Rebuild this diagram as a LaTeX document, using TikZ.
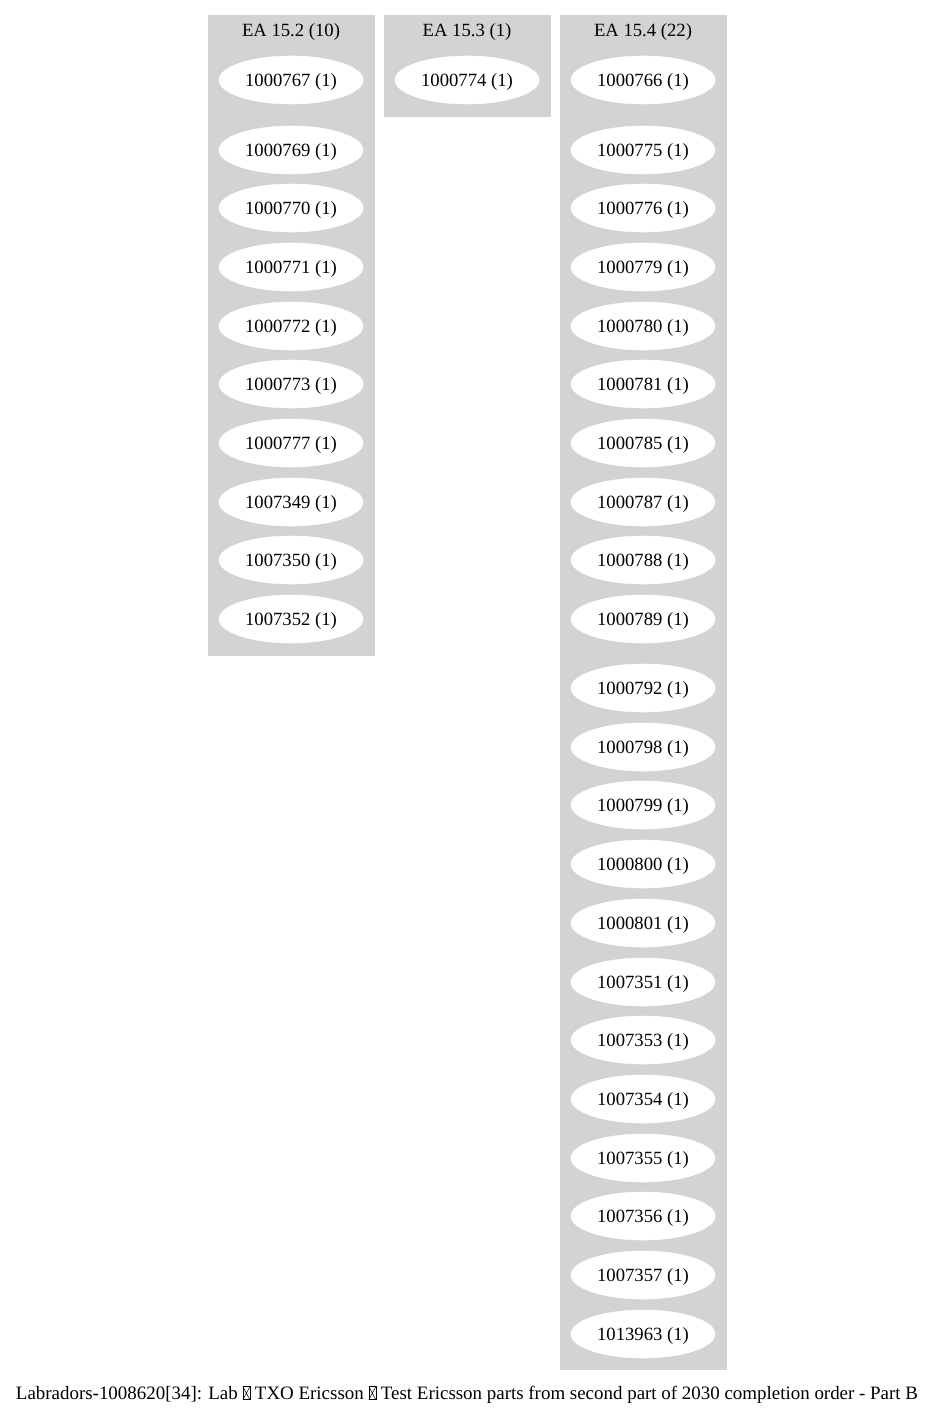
\documentclass[tikz,border=0pt]{standalone}
\usepackage{fontspec}
\setmainfont{Liberation Serif}
\usetikzlibrary{shapes.geometric}
\newcommand{\missglyph}{\tikz[baseline=0pt,x=0.75pt,y=0.75pt]{\draw[line width=0.5pt] (0.5,0) rectangle (7.5,13); \draw[line width=0.4pt] (0.5,0) -- (7.5,13) (0.5,13) -- (7.5,0);}}
\begin{document}
\begin{tikzpicture}[x=0.75pt,y=-0.75pt,
  cluster/.style={fill=lightgray,draw=lightgray},
  item/.style={ellipse,fill=white,draw=white,minimum width=108pt,minimum height=36pt,inner sep=0pt,text height=12pt,text depth=2pt,font=\fontsize{14pt}{16pt}\selectfont},
  ctitle/.style={font=\fontsize{14pt}{16pt}\selectfont,inner sep=0pt,text height=12pt,text depth=2pt}]
\useasboundingbox (0,0) rectangle (935,1416);
\definecolor{lightgray}{HTML}{D3D3D3}
\fill[cluster] (208,15) rectangle (374,655);
\fill[cluster] (384,15) rectangle (550,116);
\fill[cluster] (560,15) rectangle (726,1369);
\node[ctitle] (t1) at (291,30) {EA 15.2 (10)};
\node[ctitle] (t2) at (467,30) {EA 15.3 (1)};
\node[ctitle] (t3) at (643,30) {EA 15.4 (22)};
\foreach \lab/\y in {1000767/80,1000769/150,1000770/208,1000771/267,1000772/326,1000773/384,1000777/443,1007349/502,1007350/560,1007352/619}
  \node[item] (n\lab) at (291,\y) {\lab\ (1)};
\node[item] (n1000774) at (467,80) {1000774 (1)};
\foreach \lab/\y in {1000766/80,1000775/150,1000776/208,1000779/267,1000780/326,1000781/384,1000785/443,1000787/502,1000788/560,1000789/619,1000792/688,1000798/747,1000799/805,1000800/864,1000801/923,1007351/982,1007353/1040,1007354/1099,1007355/1158,1007356/1216,1007357/1275,1013963/1334}
  \node[item] (n\lab) at (643,\y) {\lab\ (1)};
\node[ctitle,font=\fontsize{14.2pt}{16pt}\selectfont] (cap) at (467,1393) {Labradors-1008620[34]: Lab~\missglyph~TXO Ericsson~\missglyph~Test Ericsson parts from second part of 2030 completion order - Part B};
\end{tikzpicture}
\end{document}
